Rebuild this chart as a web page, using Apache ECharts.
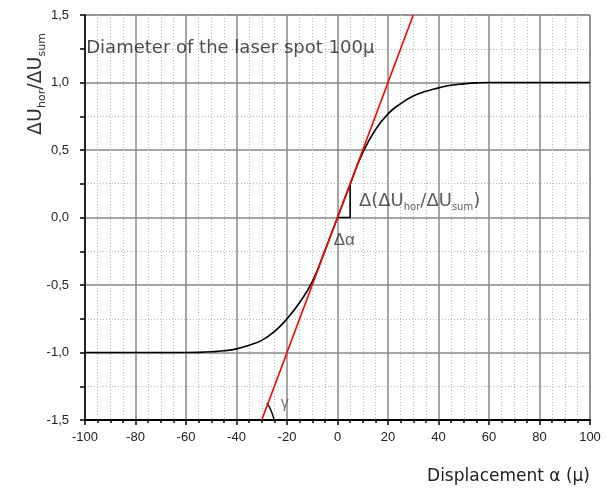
<!DOCTYPE html>
<html>
<head>
<meta charset="utf-8">
<script src="https://cdn.jsdelivr.net/npm/echarts@6/dist/echarts.min.js"></script>
<style>html,body{margin:0;padding:0;background:#fff;}#c{width:606px;height:491px;}</style>
</head>
<body>
<div id="c"></div>
<script>
// Measured response curve
const displacement = [-100, -90, -80, -70, -60, -55, -50, -45, -40, -35, -30, -25, -20, -15, -10, -5, 0, 5, 10, 15, 20, 25, 30, 35, 40, 45, 50, 55, 60, 70, 80, 90, 100];
const response =     [-1.0, -1.0, -1.0, -1.0, -1.0, -0.999, -0.995, -0.987, -0.973, -0.946, -0.91, -0.845, -0.75, -0.63, -0.475, -0.245, 0, 0.245, 0.48, 0.65, 0.768, 0.843, 0.9, 0.935, 0.96, 0.98, 0.99, 0.997, 1.0, 1.0, 1.0, 1.0, 1.0];
// Linear fit (tangent) line
const fitX = [-30, 30];
const fitY = [-1.5, 1.5];
// Slope triangle
const triX = [0, 5, 5];
const triY = [0, 0, 0.25];
// Angle arc for gamma
const arcX = [-28, -26.8, -25.8, -25.1];
const arcY = [-1.373, -1.41, -1.455, -1.5];
// Axis ticks
const xTicks = [-100, -80, -60, -40, -20, 0, 20, 40, 60, 80, 100];
const yTicks = ['-1,5', '-1,0', '-0,5', '0,0', '0,5', '1,0', '1,5'];

const zip = (a, b) => a.map((v, i) => [v, b[i]]);
const font = 'Liberation Sans, Arial, sans-serif';
const wide = 'DejaVu Sans, sans-serif';

const chart = echarts.init(document.getElementById('c'));
chart.setOption({
  animation: false,
  grid: { left: 85, right: 16, top: 15, bottom: 71, show: true, borderColor: '#777', borderWidth: 1 },
  xAxis: {
    type: 'value', min: -100, max: 100, interval: 20,
    axisLine: { show: true, onZero: false, lineStyle: { color: '#000', width: 2 } },
    axisTick: { show: true, length: 5, lineStyle: { color: '#000', width: 1.5 } },
    minorTick: { show: true, splitNumber: 4, length: 3, lineStyle: { color: '#000', width: 1.5 } },
    splitLine: { show: true, lineStyle: { color: '#888', width: 1.5 } },
    minorSplitLine: { show: true, lineStyle: { color: '#bbb', width: 1, type: [1, 2] } },
    axisLabel: { color: '#222', fontSize: 13, fontFamily: font, margin: 11,
      formatter: v => String(xTicks[Math.round((v + 100) / 20)]) },
    name: 'Displacement α (μ)', nameLocation: 'end', nameGap: 0,
    nameTextStyle: { color: '#222', fontSize: 17, fontFamily: wide, align: 'right', verticalAlign: 'top', padding: [48, 0, 0, 0] }
  },
  yAxis: {
    type: 'value', min: -1.5, max: 1.5, interval: 0.5,
    axisLine: { show: true, onZero: false, lineStyle: { color: '#000', width: 1.5 } },
    axisTick: { show: true, length: 5, lineStyle: { color: '#000', width: 1.5 } },
    minorTick: { show: true, splitNumber: 2, length: 5, lineStyle: { color: '#000', width: 1.5 } },
    splitLine: { show: true, lineStyle: { color: '#888', width: 1.5 } },
    minorSplitLine: { show: true, lineStyle: { color: '#bbb', width: 1, type: [1, 2] } },
    axisLabel: { color: '#222', fontSize: 13, fontFamily: font, margin: 16,
      formatter: v => yTicks[Math.round((v + 1.5) / 0.5)] }
  },
  graphic: [{
    type: 'text', x: 36, y: 84, rotation: Math.PI / 2,
    style: {
      text: '{n|ΔU}{s|hor}{n|/ΔU}{s|sum}', align: 'center', verticalAlign: 'middle',
      rich: {
        n: { fontSize: 19, fontFamily: wide, fill: '#333', lineHeight: 24 },
        s: { fontSize: 11, fontFamily: wide, fill: '#333', verticalAlign: 'bottom', lineHeight: 16 }
      }
    }
  }],
  series: [
    { type: 'line', data: zip(displacement, response), smooth: 0.5, showSymbol: false,
      lineStyle: { color: '#000', width: 1.6 }, z: 3 },
    { type: 'line', data: zip(fitX, fitY), showSymbol: false,
      lineStyle: { color: '#f00', width: 1.6 }, z: 4 },
    { type: 'line', data: zip(triX, triY), showSymbol: false,
      lineStyle: { color: '#000', width: 1.6 }, z: 3 },
    { type: 'line', data: zip(arcX, arcY), showSymbol: false, smooth: true,
      lineStyle: { color: '#000', width: 1.4 }, z: 3 },
    { type: 'scatter', symbolSize: 0, z: 5, silent: true,
      data: [
        { value: [-99.5, 1.25], label: { formatter: 'Diameter of the laser spot 100μ', position: 'right', distance: 0,
            color: '#222', fontSize: 18, fontFamily: wide } },
        { value: [8.5, 0.12], label: { formatter: '{n|Δ(ΔU}{s|hor}{n|/ΔU}{s|sum}{n|)}', position: 'right', distance: 0,
            rich: {
              n: { fontSize: 18, fontFamily: wide, color: '#333', lineHeight: 22 },
              s: { fontSize: 10, fontFamily: wide, color: '#333', verticalAlign: 'bottom', lineHeight: 14 }
            } } },
        { value: [-1.5, -0.17], label: { formatter: 'Δα', position: 'right', distance: 0,
            color: '#333', fontSize: 17, fontFamily: font } },
        { value: [-22.5, -1.38], label: { formatter: 'γ', position: 'right', distance: 0,
            color: '#556', fontSize: 16, fontFamily: font } }
      ],
      label: { show: true }
    }
  ]
});
</script>
</body>
</html>
